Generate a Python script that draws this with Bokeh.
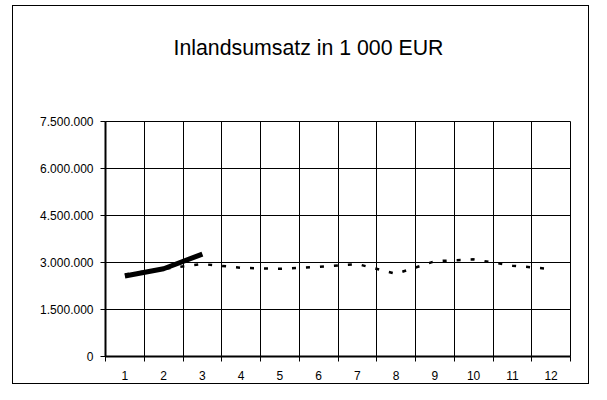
from bokeh.plotting import figure
from bokeh.models import FixedTicker, Range1d, Title
from bokeh.embed import file_html
from bokeh.resources import INLINE

months = [1, 2, 3, 4, 5, 6, 7, 8, 9, 10, 11, 12]
current_year = [2570000, 2800000, 3270000]
previous_year = [2620000, 2800000, 2950000, 2830000, 2800000, 2860000,
                 2950000, 2640000, 3040000, 3100000, 2900000, 2790000]
y_ticks = [0, 1500000, 3000000, 4500000, 6000000, 7500000]
y_tick_labels = ["0", "1.500.000", "3.000.000", "4.500.000", "6.000.000", "7.500.000"]
title_text = "Inlandsumsatz in 1 000 EUR"

FONT = "Liberation Sans"

p = figure(width=577, height=379, output_backend="svg", toolbar_location=None,
           x_range=Range1d(0.5, 12.5), y_range=Range1d(0, 7500000),
           min_border_left=92, min_border_right=20, min_border_bottom=29,
           min_border_top=10, background_fill_color="white",
           border_fill_color="white", outline_line_color="black",
           margin=(5, 0, 0, 12),
           styles={"border": "1px solid black"})

# spacer between frame and title (closest to frame), then the title
p.add_layout(Title(text=" ", text_font_size="1px", standoff=32), "above")
p.add_layout(Title(text=title_text, align="left", text_font=FONT,
                   text_font_size="21.3px", text_font_style="normal",
                   text_color="black", standoff=54, offset=68), "above")

boundaries = [m - 0.5 for m in months] + [months[-1] + 0.5]

# axes
p.xaxis.ticker = FixedTicker(ticks=months, minor_ticks=boundaries)
p.xaxis.major_tick_out = 0
p.xaxis.major_tick_in = 0
p.xaxis.minor_tick_out = 5
p.xaxis.minor_tick_in = 0
p.xaxis.minor_tick_line_color = "black"
p.xaxis.axis_line_width = 2
p.xaxis.axis_line_color = "black"
p.xaxis.major_label_standoff = 9
p.xaxis.major_label_text_font = FONT
p.xaxis.major_label_text_font_size = "12px"
p.xaxis.major_label_text_color = "black"

p.yaxis.ticker = FixedTicker(ticks=y_ticks)
p.yaxis.major_label_overrides = dict(zip(y_ticks, y_tick_labels))
p.yaxis.major_tick_out = 5
p.yaxis.major_tick_in = 0
p.yaxis.minor_tick_out = 0
p.yaxis.minor_tick_in = 0
p.yaxis.major_tick_line_color = "black"
p.yaxis.axis_line_width = 2
p.yaxis.axis_line_color = "black"
p.yaxis.major_label_standoff = 7
p.yaxis.major_label_text_font = FONT
p.yaxis.major_label_text_font_size = "12px"
p.yaxis.major_label_text_color = "black"

# grids
p.xgrid.ticker = FixedTicker(ticks=boundaries)
p.xgrid.grid_line_color = "black"
p.xgrid.grid_line_width = 1
p.ygrid.grid_line_color = "black"
p.ygrid.grid_line_width = 1

# series
p.line(months, previous_year, line_color="black", line_width=2.5, line_dash="4 10")
p.line(months[:len(current_year)], current_year, line_color="black", line_width=5,
       line_join="round")

open("out.html", "w").write(file_html(p, INLINE))
